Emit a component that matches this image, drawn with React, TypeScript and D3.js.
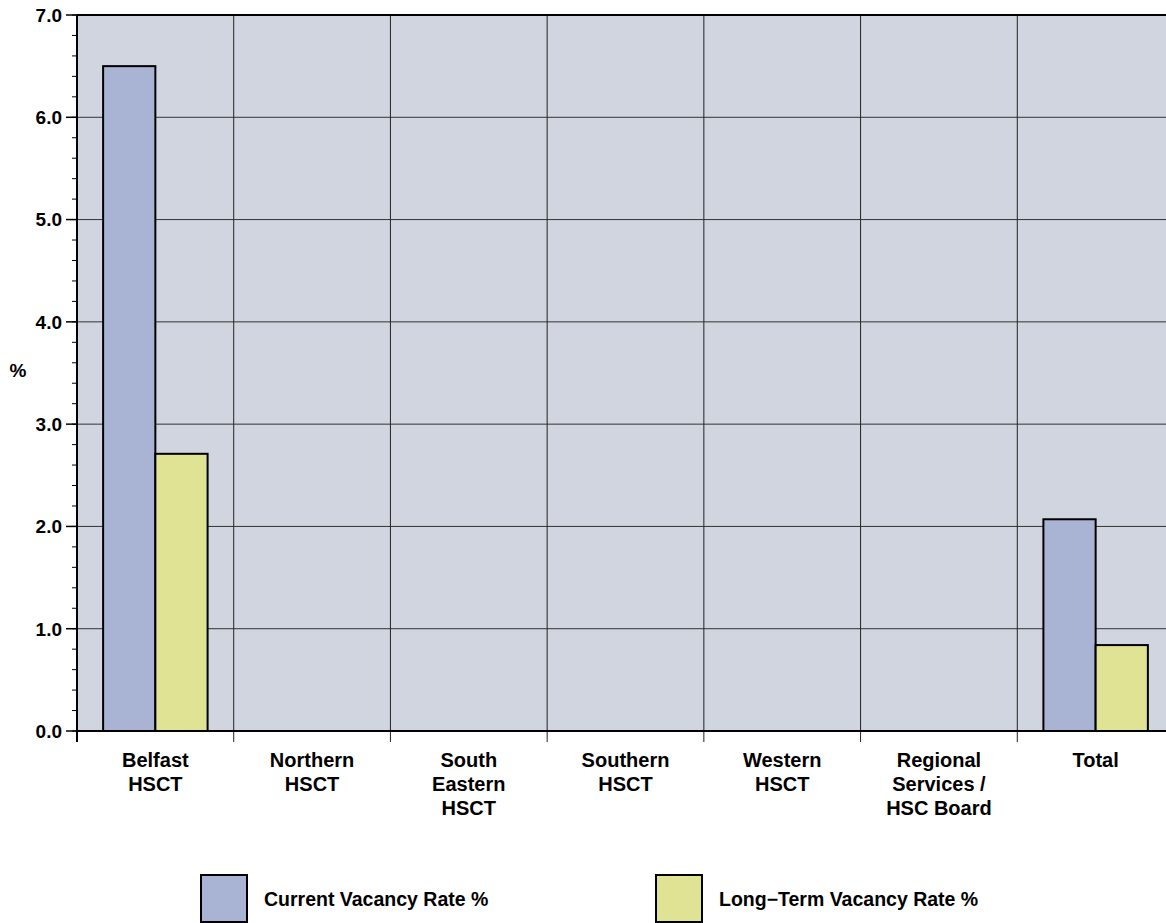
import React from "react";
import * as d3 from "d3";

const categories = [
  ["Belfast", "HSCT"],
  ["Northern", "HSCT"],
  ["South", "Eastern", "HSCT"],
  ["Southern", "HSCT"],
  ["Western", "HSCT"],
  ["Regional", "Services /", "HSC Board"],
  ["Total"],
];
const currentRate = [6.5, 0, 0, 0, 0, 0, 2.07];
const longTermRate = [2.71, 0, 0, 0, 0, 0, 0.84];
const seriesNames = ["Current Vacancy Rate %", "Long\u2212Term Vacancy Rate %"];
const yTicks = [0, 1, 2, 3, 4, 5, 6, 7];

const W = 1166;
const H = 923;
const left = 77;
const top = 15;
const bottom = 731;
const right = 1174;
const colors = ["#a9b3d4", "#e0e294"];
const font = "'Liberation Sans', Arial, sans-serif";

export default function App() {
  const x = d3
    .scaleBand<number>()
    .domain(categories.map((_, i) => i))
    .range([left, right])
    .paddingInner(0)
    .paddingOuter(0);
  const y = d3.scaleLinear().domain([0, 7]).range([bottom, top]);
  const minor = d3.range(0, 7.001, 0.2);
  const bw = x.bandwidth();
  const barW = bw / 3;
  const series = [currentRate, longTermRate];

  return (
    <svg
      width={W}
      height={H}
      style={{ position: "absolute", left: 0, top: 0, fontFamily: font }}
    >
      <rect x={0} y={0} width={W} height={H} fill="#ffffff" />
      <rect x={left} y={top} width={right - left} height={bottom - top} fill="#d1d5e0" />
      {yTicks.map((t) => (
        <line key={"g" + t} x1={left} x2={right} y1={y(t)} y2={y(t)} stroke="#333" strokeWidth={1} />
      ))}
      {categories.map((_, i) =>
        i > 0 ? (
          <line key={"v" + i} x1={x(i)!} x2={x(i)!} y1={top} y2={bottom + 11} stroke="#222" strokeWidth={1} />
        ) : null
      )}
      {series.map((vals, s) =>
        vals.map((v, i) => (
          <rect
            key={s + "-" + i}
            x={x(i)! + bw / 6 + s * barW}
            y={y(v)}
            width={barW}
            height={bottom - y(v)}
            fill={colors[s]}
            stroke="#000"
            strokeWidth={2}
          />
        ))
      )}
      <line x1={left} x2={right} y1={top} y2={top} stroke="#000" strokeWidth={2} />
      <line x1={left} x2={right} y1={bottom} y2={bottom} stroke="#000" strokeWidth={2} />
      <line x1={left} x2={left} y1={top} y2={bottom + 11} stroke="#000" strokeWidth={2} />
      {minor.map((t, k) => (
        <line key={"m" + k} x1={left - 5} x2={left} y1={y(t)} y2={y(t)} stroke="#000" strokeWidth={1} />
      ))}
      {yTicks.map((t) => (
        <g key={"t" + t}>
          <line x1={left - 11} x2={left} y1={y(t)} y2={y(t)} stroke="#000" strokeWidth={1.5} />
          <text
            x={62}
            y={y(t)}
            dy="0.36em"
            textAnchor="end"
            fontSize={19}
            fontWeight="bold"
            fill="#000"
          >
            {t.toFixed(1)}
          </text>
        </g>
      ))}
      <text x={18} y={370} dy="0.36em" textAnchor="middle" fontSize={19} fontWeight="bold">
        %
      </text>
      {categories.map((lines, i) => (
        <text
          key={"c" + i}
          x={x(i)! + bw / 2}
          y={767}
          textAnchor="middle"
          fontSize={20}
          fontWeight="bold"
        >
          {lines.map((l, j) => (
            <tspan key={j} x={x(i)! + bw / 2} dy={j === 0 ? 0 : 24}>
              {l}
            </tspan>
          ))}
        </text>
      ))}
      {seriesNames.map((name, s) => {
        const lx = s === 0 ? 201 : 656;
        return (
          <g key={"l" + s}>
            <rect x={lx} y={875} width={46} height={47} fill={colors[s]} stroke="#000" strokeWidth={2} />
            <text x={lx + 63} y={906} fontSize={19.5} fontWeight="bold">
              {name}
            </text>
          </g>
        );
      })}
    </svg>
  );
}
